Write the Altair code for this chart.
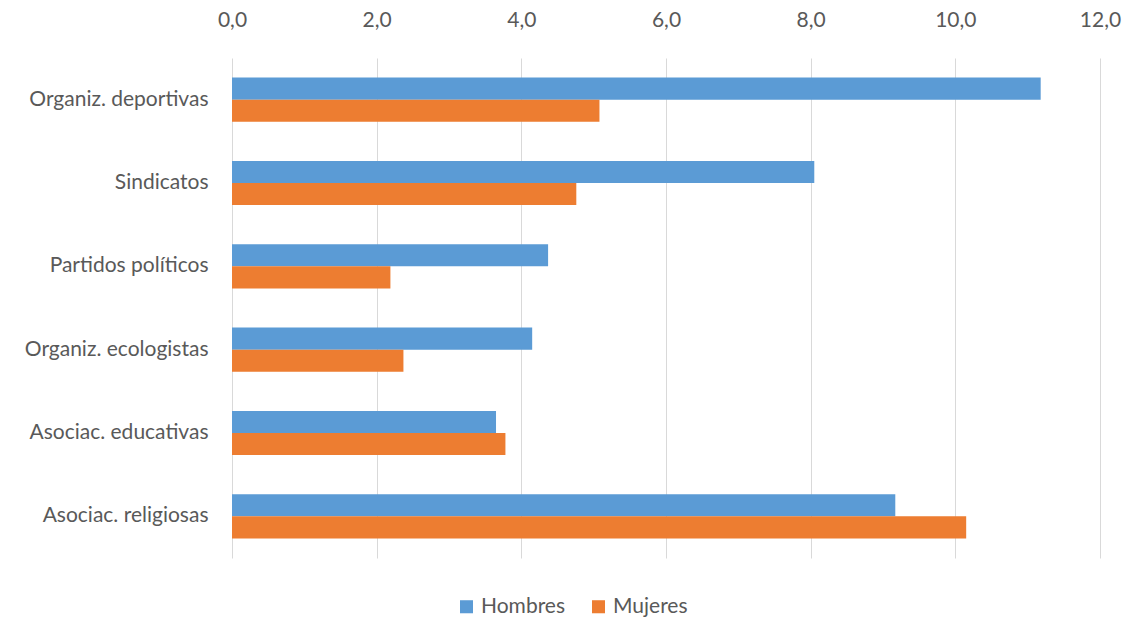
import altair as alt
import pandas as pd

categories = ["Organiz. deportivas", "Sindicatos", "Partidos políticos",
              "Organiz. ecologistas", "Asociac. educativas", "Asociac. religiosas"]
hombres = [11.18, 8.05, 4.37, 4.15, 3.65, 9.17]
mujeres = [5.08, 4.76, 2.19, 2.37, 3.78, 10.15]
series = ["Hombres", "Mujeres"]
colors = ["#5B9BD5", "#ED7D31"]

rows = []
for c, h, m in zip(categories, hombres, mujeres):
    rows.append({"cat": c, "serie": "Hombres", "val": h})
    rows.append({"cat": c, "serie": "Mujeres", "val": m})
df = pd.DataFrame(rows)

FONT = "Lato"
TXT = "#595959"
FS = 21

chart = alt.Chart(df).mark_bar().encode(
    y=alt.Y("cat:N", sort=categories,
            scale=alt.Scale(paddingInner=0.47, paddingOuter=0.235),
            axis=alt.Axis(title=None, ticks=False, domain=False, labelPadding=24,
                          labelLimit=400,
                          labelFontSize=FS, labelColor=TXT, labelFont=FONT)),
    yOffset=alt.YOffset("serie:N", sort=series, scale=alt.Scale(paddingInner=0, paddingOuter=0)),
    x=alt.X("val:Q", scale=alt.Scale(domain=[0, 12], nice=False),
            axis=alt.Axis(orient="top", title=None, values=[0, 2, 4, 6, 8, 10, 12],
                          ticks=False, domain=False, labelPadding=28, labelFlush=False,
                          labelExpr="replace(format(datum.value, '.1f'), '.', ',')",
                          labelFontSize=FS, labelColor=TXT, labelFont=FONT,
                          gridColor="#D9D9D9", gridWidth=1)),
    color=alt.Color("serie:N", sort=series,
                    scale=alt.Scale(domain=series, range=colors),
                    legend=alt.Legend(title=None, orient="none", direction="horizontal",
                                      legendX=224, legendY=538, symbolType="square",
                                      symbolSize=170, symbolStrokeWidth=0,
                                      labelFontSize=FS, labelColor=TXT, labelFont=FONT,
                                      columnPadding=22, labelOffset=4)),
).properties(
    width=868, height=500,
    autosize=alt.AutoSizeParams(type="none"),
    padding={"left": 232, "top": 58, "right": 26, "bottom": 64},
    background="white",
).configure_view(stroke=None)

chart.save("out.html", embed_options={"renderer": "svg", "actions": False})
